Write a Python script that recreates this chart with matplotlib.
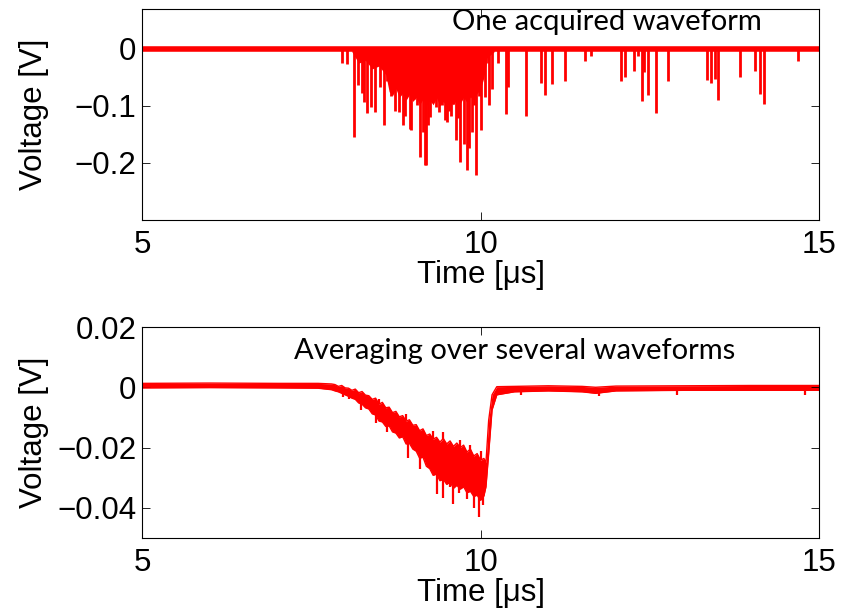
import matplotlib
matplotlib.use("Agg")
import matplotlib.pyplot as plt

plt.rcParams["font.family"] = ["Liberation Sans", "DejaVu Sans"]

# ---- top panel: one acquired waveform (spike times [us], spike minima [V]) ----
spike_t = [7.96, 8.03, 8.13, 8.19, 8.25, 8.28, 8.32, 8.38, 8.44, 8.51, 8.57, 8.62,
           8.68, 8.74, 8.79, 8.85, 8.88, 8.96, 8.98, 9.01, 9.03, 9.06, 9.10, 9.15,
           9.18, 9.20, 9.23, 9.26, 9.31, 9.34, 9.39, 9.43, 9.47, 9.50, 9.54, 9.57,
           9.60, 9.64, 9.67, 9.70, 9.74, 9.76, 9.80, 9.83, 9.87, 9.90, 9.94, 9.97,
           10.00, 10.07, 10.11, 10.13, 10.17, 10.26, 10.38, 10.41, 10.67, 10.89,
           10.95, 11.06, 11.25, 11.54, 11.63, 12.07, 12.13, 12.27, 12.33, 12.39,
           12.42, 12.47, 12.59, 12.77, 13.34, 13.40, 13.46, 13.51, 13.83, 14.06,
           14.13, 14.19, 14.69]
spike_v = [-0.024, -0.027, -0.155, -0.064, -0.078, -0.093, -0.113, -0.102, -0.111,
           -0.067, -0.134, -0.056, -0.082, -0.108, -0.111, -0.134, -0.117, -0.141,
           -0.143, -0.087, -0.073, -0.099, -0.189, -0.146, -0.203, -0.203, -0.134,
           -0.119, -0.085, -0.102, -0.111, -0.099, -0.124, -0.128, -0.108, -0.117,
           -0.096, -0.160, -0.122, -0.198, -0.076, -0.166, -0.212, -0.174, -0.146,
           -0.099, -0.221, -0.082, -0.143, -0.085, -0.024, -0.099, -0.070, -0.024,
           -0.114, -0.067, -0.118, -0.059, -0.080, -0.061, -0.056, -0.021, -0.012,
           -0.056, -0.050, -0.039, -0.012, -0.092, -0.041, -0.080, -0.113, -0.057,
           -0.054, -0.060, -0.053, -0.090, -0.050, -0.039, -0.079, -0.096, -0.021]

# dense burst region: lower edge of the solid red area
burst_t = [8.10, 8.20, 8.30, 8.40, 8.50, 8.60, 8.65, 8.70, 8.75, 8.80, 8.85, 8.90,
           8.95, 9.00, 9.05, 9.10, 9.15, 9.20, 9.25, 9.30, 9.35, 9.40, 9.45, 9.50,
           9.55, 9.60, 9.65, 9.70, 9.75, 9.80, 9.85, 9.90, 9.95, 10.00, 10.05,
           10.10, 10.20]
burst_lo = [-0.005, -0.025, -0.020, -0.035, -0.030, -0.045, -0.075, -0.082, -0.070,
            -0.085, -0.078, -0.090, -0.080, -0.092, -0.085, -0.098, -0.088, -0.100,
            -0.090, -0.098, -0.086, -0.100, -0.092, -0.102, -0.090, -0.098, -0.088,
            -0.096, -0.085, -0.094, -0.084, -0.090, -0.078, -0.070, -0.050, -0.015,
            -0.005]

base_t = [5.0, 15.0]
base_v = [0.0, 0.0]

# ---- bottom panel: average over several waveforms (upper / lower edge of trace) ----
avg_t = [5.0, 6.0, 7.0, 7.6, 7.80, 7.85, 7.90, 7.95, 8.00, 8.05, 8.10, 8.15, 8.20,
         8.25, 8.30, 8.35, 8.40, 8.45, 8.50, 8.55, 8.60, 8.65, 8.70, 8.75, 8.80,
         8.85, 8.90, 8.95, 9.00, 9.05, 9.10, 9.15, 9.20, 9.25, 9.30, 9.35, 9.40,
         9.45, 9.50, 9.55, 9.60, 9.65, 9.70, 9.75, 9.80, 9.85, 9.90, 9.95, 10.00,
         10.05, 10.08, 10.12, 10.17, 10.24, 10.5, 11.0, 11.5, 11.7, 12.0, 13.0,
         14.0, 15.0]
avg_hi = [0.0013, 0.0014, 0.0013, 0.0013, 0.0011, 0.0009, 0.0003, 0.0006, -0.0002,
          -0.0003, -0.0010, -0.0006, -0.0018, -0.0014, -0.0026, -0.0028, -0.0040,
          -0.0036, -0.0056, -0.0050, -0.0068, -0.0066, -0.0084, -0.0080, -0.0098,
          -0.0094, -0.0112, -0.0108, -0.0126, -0.0124, -0.0144, -0.0138, -0.0160,
          -0.0155, -0.0172, -0.0166, -0.0182, -0.0170, -0.0188, -0.0178, -0.0196,
          -0.0185, -0.0200, -0.0192, -0.0215, -0.0205, -0.0228, -0.0220, -0.0242,
          -0.0236, -0.0250, -0.0110, -0.0025, 0.0002, 0.0003, 0.0005, 0.0003,
          0.0000, 0.0004, 0.0005, 0.0006, 0.0006]
avg_lo = [-0.0002, -0.0001, -0.0002, -0.0003, -0.0008, -0.0012, -0.0015, -0.0020,
          -0.0025, -0.0030, -0.0036, -0.0040, -0.0052, -0.0056, -0.0068, -0.0072,
          -0.0088, -0.0092, -0.0112, -0.0115, -0.0130, -0.0128, -0.0148, -0.0152,
          -0.0168, -0.0164, -0.0188, -0.0186, -0.0205, -0.0212, -0.0235, -0.0232,
          -0.0262, -0.0270, -0.0292, -0.0288, -0.0310, -0.0305, -0.0322, -0.0315,
          -0.0335, -0.0325, -0.0338, -0.0330, -0.0350, -0.0345, -0.0362, -0.0358,
          -0.0375, -0.0360, -0.0330, -0.0220, -0.0075, -0.0025, -0.0015, -0.0012,
          -0.0015, -0.0020, -0.0012, -0.0010, -0.0010, -0.0010]

# short excursions out of the averaged trace: time, start, end [V]
dn_t = [7.97, 8.05, 8.23, 8.45, 8.62, 8.93, 9.10, 9.35, 9.45, 9.55, 9.60, 9.68,
        9.80, 9.90, 9.97, 10.03, 10.60, 11.75, 12.90, 14.80]
dn_start = [-0.0010, -0.0020, -0.0050, -0.0090, -0.0120, -0.0185, -0.0230, -0.0285,
            -0.0300, -0.0310, -0.0330, -0.0330, -0.0345, -0.0355, -0.0360, -0.0355,
            -0.0012, -0.0015, -0.0010, -0.0010]
dn_end = [-0.0033, -0.0040, -0.0076, -0.0120, -0.0150, -0.0235, -0.0270, -0.0355,
          -0.0366, -0.0330, -0.0388, -0.0350, -0.0370, -0.0400, -0.0432, -0.0390,
          -0.0025, -0.0030, -0.0025, -0.0025]
up_t = [8.50, 8.90, 9.30, 9.45, 9.70, 9.85, 10.00]
up_start = [-0.0055, -0.0110, -0.0170, -0.0175, -0.0200, -0.0210, -0.0240]
up_end = [-0.0040, -0.0090, -0.0145, -0.0150, -0.0175, -0.0190, -0.0210]

x_ticks = [5, 10, 15]
top_yticks = [-0.2, -0.1, 0]
top_ylabels = ["\u22120.2", "\u22120.1", "0"]
bot_yticks = [-0.04, -0.02, 0, 0.02]
bot_ylabels = ["\u22120.04", "\u22120.02", "0", "0.02"]

RED = "#ff0000"

fig = plt.figure(figsize=(8.49, 6.11), dpi=100)
ax1 = fig.add_axes([0.1673, 0.6399, 0.7974, 0.3454])
ax2 = fig.add_axes([0.1673, 0.1195, 0.7974, 0.3453])

# top
ax1.fill_between(burst_t, burst_lo, 0, color=RED, lw=0)
ax1.vlines(spike_t, spike_v, 0, color=RED, lw=2.0)
ax1.plot(base_t, base_v, color=RED, lw=4.0, solid_capstyle="butt")
ax1.set_ylim(-0.3, 0.07)
ax1.set_yticks(top_yticks)
ax1.set_yticklabels(top_ylabels)
ax1.text(0.687, 0.9005, "One acquired waveform", transform=ax1.transAxes,
         ha="center", va="baseline", fontsize=21, family=["Lato", "DejaVu Sans"])

# bottom
ax2.fill_between(avg_t, avg_lo, avg_hi, color=RED, lw=0)
ax2.plot(avg_t, avg_hi, color=RED, lw=1.0)
ax2.plot(avg_t, avg_lo, color=RED, lw=1.0)
ax2.vlines(dn_t, dn_end, dn_start, color=RED, lw=1.6)
ax2.vlines(up_t, up_start, up_end, color=RED, lw=1.6)
ax2.set_ylim(-0.05, 0.02)
ax2.set_yticks(bot_yticks)
ax2.set_yticklabels(bot_ylabels)
ax2.text(0.551, 0.848, "Averaging over several waveforms", transform=ax2.transAxes,
         ha="center", va="baseline", fontsize=21, family=["Lato", "DejaVu Sans"])

for ax in (ax1, ax2):
    ax.set_xlim(5, 15)
    ax.set_xticks(x_ticks)
    ax.tick_params(direction="in", length=6, width=0.6, top=True, right=True,
                   labelsize=22.5)
    ax.tick_params(axis="x", pad=7)
    ax.tick_params(axis="y", pad=4)
    ax.set_xlabel("Time [\u03bcs]", fontsize=22.5, labelpad=0)
    ax.set_ylabel("Voltage [V]", fontsize=22.5)
    ax.yaxis.set_label_coords(-0.138, 0.5)
    for s in ax.spines.values():
        s.set_linewidth(0.8)

fig.savefig("out.png", dpi=100)
